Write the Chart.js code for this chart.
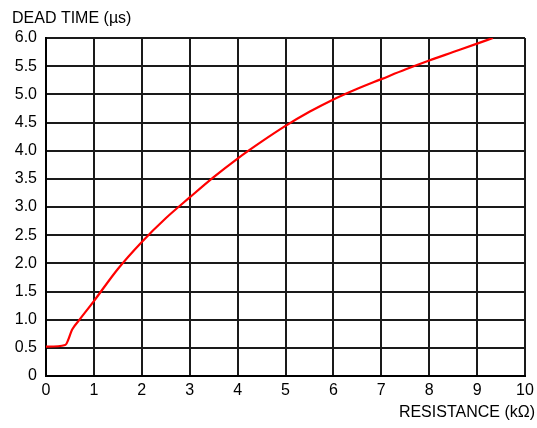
<!DOCTYPE html>
<html>
<head>
<meta charset="utf-8">
<script src="https://cdn.jsdelivr.net/npm/chart.js@4"></script>
<style>
  html, body { margin: 0; padding: 0; background: #fff; }
  #wrap { width: 537px; height: 428px; }
</style>
</head>
<body>
<div id="wrap"><canvas id="deadTimeChart" width="537" height="428"></canvas></div>
<script>
// resistance (kOhm) vs dead time (us)
const resistance = [0, 0.4, 0.55, 0.7, 1, 1.5, 2, 2.5, 3, 3.5, 4, 4.5, 5, 5.5, 6, 6.5, 7, 7.5, 8, 8.5, 9, 9.33];
const deadTime = [0.52, 0.55, 0.83, 1.0, 1.33, 1.9, 2.38, 2.8, 3.17, 3.53, 3.86, 4.16, 4.44, 4.69, 4.91, 5.1, 5.27, 5.44, 5.6, 5.75, 5.9, 6.0];
const xTickLabels = ['0', '1', '2', '3', '4', '5', '6', '7', '8', '9', '10'];
const yTickLabels = ['0', '0.5', '1.0', '1.5', '2.0', '2.5', '3.0', '3.5', '4.0', '4.5', '5.0', '5.5', '6.0'];

const FONT = "'Liberation Sans Narrow', 'Liberation Sans', Arial, sans-serif";

// axis captions drawn like the datasheet: horizontal, outside the grid
const captions = {
    id: 'captions',
    afterDraw(chart) {
        const ctx = chart.ctx;
        ctx.save();
        ctx.fillStyle = '#000';
        ctx.font = '16px ' + FONT;
        ctx.textBaseline = 'middle';
        ctx.textAlign = 'left';
        ctx.fillText('DEAD TIME (\u00b5s)', 12, 19);
        ctx.textAlign = 'right';
        ctx.fillText('RESISTANCE (k\u03a9)', 535, 413);
        ctx.restore();
    }
};

const points = resistance.map((r, i) => ({ x: r, y: deadTime[i] }));

new Chart(document.getElementById('deadTimeChart').getContext('2d'), {
    type: 'scatter',
    data: {
        datasets: [{
            data: points,
            showLine: true,
            borderColor: '#ff0000',
            borderWidth: 2.2,
            pointRadius: 0,
            cubicInterpolationMode: 'monotone',
        }]
    },
    options: {
        responsive: false,
        animation: false,
        layout: { padding: { left: 0, right: 12, top: 38, bottom: 0 } },
        plugins: {
            legend: { display: false },
            tooltip: { enabled: false },
        },
        scales: {
            x: {
                type: 'linear',
                min: 0,
                max: 10,
                afterFit: scale => {
                    scale.height = 52;
                    scale.paddingLeft = 0;
                    scale.paddingRight = 0;
                },
                grid: { color: '#1a1a1a', lineWidth: 2, drawTicks: false },
                border: { color: '#000', width: 2 },
                ticks: {
                    stepSize: 1,
                    padding: 5,
                    color: '#000',
                    font: { family: FONT, size: 16 },
                    maxRotation: 0,
                    callback: (v) => xTickLabels[Math.round(v)],
                },
            },
            y: {
                min: 0,
                max: 6,
                afterFit: scale => {
                    scale.width = 46;
                    scale.paddingTop = 0;
                    scale.paddingBottom = 0;
                },
                grid: { color: '#1a1a1a', lineWidth: 2, drawTicks: false },
                border: { color: '#000', width: 2 },
                ticks: {
                    stepSize: 0.5,
                    padding: 9,
                    color: '#000',
                    font: { family: FONT, size: 16 },
                    callback: (v) => yTickLabels[Math.round(v * 2)],
                },
            },
        },
    },
    plugins: [captions],
});
</script>
</body>
</html>
